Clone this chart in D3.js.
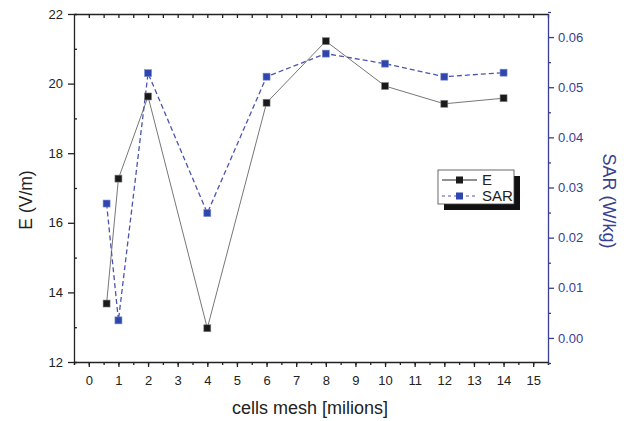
<!DOCTYPE html>
<html>
<head>
<meta charset="utf-8">
<script src="https://cdn.jsdelivr.net/npm/d3@7"></script>
<style>
  body { margin: 0; background: #fff; }
  svg text { font-family: 'Liberation Sans', Arial, sans-serif; }
</style>
</head>
<body>
<div id="chart"></div>
<script>
// data
const cells = [0.6, 1, 2, 4, 6, 8, 10, 12, 14]
const eValues = [13.68, 17.27, 19.63, 12.97, 19.45, 21.22, 19.93, 19.42, 19.58]
const sarValues = [0.0268, 0.0035, 0.0528, 0.0249, 0.0521, 0.0567, 0.0547, 0.0521, 0.0529]
const xTicks = d3.range(0, 16)
const eTicks = [12, 14, 16, 18, 20, 22]
const sarTicks = [0, 0.01, 0.02, 0.03, 0.04, 0.05, 0.06]

const width = 624
const height = 421
const margin = {top: 14, right: 76, bottom: 59, left: 74}
const blue = '#3a3f94'
const markerBlue = '#2f46ad'

const svg = d3.select('#chart').append('svg')
  .attr('width', width)
  .attr('height', height)

const x = d3.scaleLinear()
  .domain([-0.5, 15.5])
  .range([margin.left, width - margin.right])

const yE = d3.scaleLinear()
  .domain([12, 22])
  .range([height - margin.bottom, margin.top])

const ySar = d3.scaleLinear()
  .domain([-0.0048, 0.0646])
  .range([height - margin.bottom, margin.top])

const styleAxis = (g, color) => {
  g.selectAll('path, line').attr('stroke', color).attr('stroke-width', 1.3)
  g.selectAll('text').attr('fill', color).attr('font-size', 13)
}

// bottom axis, minor ticks at the halves
svg.append('g')
  .attr('transform', `translate(0,${height - margin.bottom})`)
  .call(d3.axisBottom(x).tickValues(d3.range(-0.5, 15.6, 0.5)).tickSize(3).tickFormat(''))
  .call(g => styleAxis(g, '#222'))
svg.append('g')
  .attr('transform', `translate(0,${height - margin.bottom})`)
  .call(d3.axisBottom(x).tickValues(xTicks).tickSize(5).tickPadding(9).tickFormat(d3.format('d')))
  .call(g => g.select('.domain').remove())
  .call(g => styleAxis(g, '#222'))

// top axis, ticks pointing in
svg.append('g')
  .attr('transform', `translate(0,${margin.top})`)
  .call(d3.axisBottom(x).tickValues(d3.range(0, 15.6, 0.5)).tickSize(4).tickSizeOuter(0).tickFormat(''))
  .call(g => styleAxis(g, '#222'))

// left axis
svg.append('g')
  .attr('transform', `translate(${margin.left},0)`)
  .call(d3.axisLeft(yE).tickValues(d3.range(13, 22, 2)).tickSize(-3).tickFormat(''))
  .call(g => styleAxis(g, '#222'))
svg.append('g')
  .attr('transform', `translate(${margin.left},0)`)
  .call(d3.axisLeft(yE).tickValues(eTicks).tickSize(6).tickPadding(5))
  .call(g => g.select('.domain').remove())
  .call(g => styleAxis(g, '#222'))

// right axis (SAR)
svg.append('g')
  .attr('transform', `translate(${width - margin.right},0)`)
  .call(d3.axisRight(ySar).tickValues(d3.range(-0.005, 0.065, 0.01)).tickSize(3).tickSizeOuter(0).tickFormat(''))
  .call(g => styleAxis(g, blue))
svg.append('g')
  .attr('transform', `translate(${width - margin.right},0)`)
  .call(d3.axisRight(ySar).tickValues(sarTicks).tickSize(6).tickPadding(4).tickFormat(d3.format('.2f')))
  .call(g => g.select('.domain').remove())
  .call(g => styleAxis(g, blue))

// axis titles
svg.append('text')
  .attr('transform', 'translate(32,200) rotate(-90)')
  .attr('text-anchor', 'middle')
  .attr('font-size', 17.5)
  .attr('fill', '#222')
  .text('E (V/m)')

svg.append('text')
  .attr('x', 310)
  .attr('y', 414)
  .attr('text-anchor', 'middle')
  .attr('font-size', 18)
  .attr('fill', '#222')
  .text('cells mesh [milions]')

svg.append('text')
  .attr('transform', 'translate(603,201) rotate(90)')
  .attr('text-anchor', 'middle')
  .attr('font-size', 18)
  .attr('fill', blue)
  .text('SAR (W/kg)')

// series
const lineE = d3.line().x((d, i) => x(cells[i])).y(d => yE(d))
const lineSar = d3.line().x((d, i) => x(cells[i])).y(d => ySar(d))

svg.append('path')
  .attr('d', lineE(eValues))
  .attr('fill', 'none')
  .attr('stroke', '#777')
  .attr('stroke-width', 1)

svg.append('path')
  .attr('d', lineSar(sarValues))
  .attr('fill', 'none')
  .attr('stroke', '#4a55b0')
  .attr('stroke-width', 1.3)
  .attr('stroke-dasharray', '5,3')

const ms = 7
svg.append('g').selectAll('rect')
  .data(sarValues)
  .join('rect')
  .attr('x', (d, i) => x(cells[i]) - ms / 2)
  .attr('y', d => ySar(d) - ms / 2)
  .attr('width', ms)
  .attr('height', ms)
  .attr('fill', markerBlue)
  .attr('stroke', '#7f8ccc')
  .attr('stroke-width', 0.6)

svg.append('g').selectAll('rect')
  .data(eValues)
  .join('rect')
  .attr('x', (d, i) => x(cells[i]) - ms / 2)
  .attr('y', d => yE(d) - ms / 2)
  .attr('width', ms)
  .attr('height', ms)
  .attr('fill', '#1a1a1a')
  .attr('stroke', '#888')
  .attr('stroke-width', 0.6)

// legend with drop shadow
const legend = svg.append('g').attr('transform', 'translate(438,170)')
legend.append('rect')
  .attr('x', 6).attr('y', 6).attr('width', 76).attr('height', 34)
  .attr('fill', '#111')
legend.append('rect')
  .attr('width', 76).attr('height', 34)
  .attr('fill', '#fff')
  .attr('stroke', '#444')
  .attr('stroke-width', 0.8)

const legendItems = [
  {name: 'E', stroke: '#222', fill: '#1a1a1a', dash: null},
  {name: 'SAR', stroke: '#4a55b0', fill: markerBlue, dash: '3,3'}
]
legendItems.forEach((item, i) => {
  const yy = 10 + i * 16
  legend.append('line')
    .attr('x1', 4).attr('x2', 39).attr('y1', yy).attr('y2', yy)
    .attr('stroke', item.stroke)
    .attr('stroke-width', 1)
    .attr('stroke-dasharray', item.dash)
  legend.append('rect')
    .attr('x', 21.5 - ms / 2).attr('y', yy - ms / 2)
    .attr('width', ms).attr('height', ms)
    .attr('fill', item.fill)
  legend.append('text')
    .attr('x', 44).attr('y', yy + 5)
    .attr('font-size', 15)
    .attr('fill', '#222')
    .text(item.name)
})
</script>
</body>
</html>
